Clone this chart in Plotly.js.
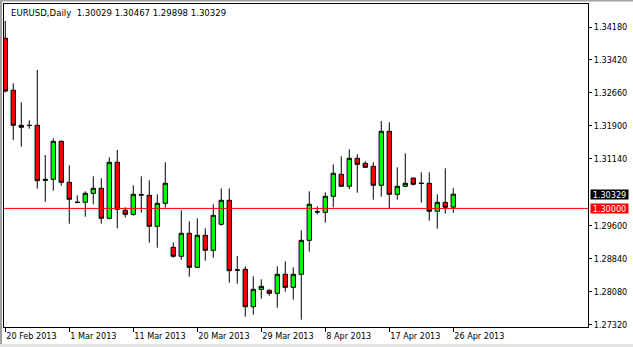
<!DOCTYPE html>
<html><head><meta charset="utf-8">
<script src="https://cdn.plot.ly/plotly-3.0.1.min.js"></script>
<style>html,body{margin:0;padding:0;background:#fff;overflow:hidden}#chart{width:633px;height:347px}</style>
</head><body><div id="chart"></div>
<script>
// Bar index (one per daily bar, 20 Feb 2013 .. 26 Apr 2013)
const barIndex = [0,1,2,3,4,5,6,7,8,9,10,11,12,13,14,15,16,17,18,19,20,21,22,23,24,25,26,27,28,29,30,31,32,33,34,35,36,37,38,39,40,41,42,43,44,45,46,47,48,49,50,51,52,53,54,55,56];
const openP  = [1.33920,1.32722,1.31915,1.31915,1.31915,1.30671,1.30671,1.31546,1.30602,1.30145,1.30141,1.30348,1.30463,1.29772,1.31063,1.29957,1.29864,1.30318,1.30302,1.29588,1.30118,1.29104,1.28897,1.29427,1.28643,1.29381,1.29035,1.29634,1.30187,1.28584,1.28597,1.27735,1.28136,1.28113,1.28044,1.28482,1.28182,1.28482,1.29265,1.29925,1.29910,1.30279,1.30786,1.30510,1.31155,1.31040,1.30970,1.30533,1.31777,1.30325,1.30510,1.30700,1.30582,1.30579,1.29934,1.30141,1.30029];
const highP  = [1.34318,1.32883,1.32445,1.32030,1.33189,1.31231,1.31616,1.31569,1.30993,1.30302,1.30394,1.30740,1.30694,1.31178,1.31346,1.30026,1.30533,1.30740,1.30648,1.30325,1.31063,1.29219,1.29957,1.29703,1.29772,1.29542,1.30095,1.30463,1.30463,1.28904,1.28666,1.28436,1.28367,1.28136,1.28666,1.28782,1.28643,1.29496,1.30394,1.30049,1.30371,1.31016,1.31201,1.31362,1.31247,1.31086,1.31063,1.32014,1.31984,1.30947,1.31270,1.30705,1.30832,1.30832,1.30325,1.30924,1.30467];
const lowP   = [1.32675,1.31576,1.31422,1.31837,1.30454,1.30155,1.30408,1.30523,1.29648,1.30118,1.29809,1.30095,1.29648,1.29749,1.29542,1.29795,1.29832,1.29901,1.29210,1.29095,1.30016,1.28864,1.28818,1.28427,1.28636,1.28795,1.28864,1.29602,1.28288,1.28265,1.27505,1.27551,1.27920,1.27989,1.27712,1.28081,1.27897,1.27436,1.29003,1.29864,1.29671,1.30026,1.30500,1.30440,1.30362,1.30940,1.30201,1.30270,1.30003,1.30201,1.30487,1.30533,1.30132,1.29717,1.29533,1.29878,1.29898];
const closeP = [1.32705,1.31915,1.31869,1.31912,1.30639,1.30650,1.31546,1.30602,1.30210,1.30138,1.30348,1.30463,1.29772,1.31063,1.29980,1.29864,1.30325,1.30311,1.29588,1.30118,1.30579,1.28897,1.29427,1.28643,1.29381,1.29035,1.29841,1.30187,1.28565,1.28578,1.27735,1.28136,1.28205,1.28044,1.28482,1.28182,1.28482,1.29265,1.30095,1.29919,1.30279,1.30809,1.30510,1.31155,1.31016,1.30947,1.30533,1.31777,1.30325,1.30510,1.30579,1.30556,1.30576,1.29934,1.30141,1.30026,1.30329];

// Time-scale labels
const dateTickIndex = [0,8,16,24,32,40,48,56];
const dateTickLabels = ["20 Feb 2013","1 Mar 2013","11 Mar 2013","20 Mar 2013","29 Mar 2013","8 Apr 2013","17 Apr 2013","26 Apr 2013"];
// Price scale labels
const priceTicks = [1.27320,1.28080,1.28840,1.29600,1.31140,1.31900,1.32660,1.33420,1.34180];
const priceTickLabels = ["1.27320","1.28080","1.28840","1.29600","1.31140","1.31900","1.32660","1.33420","1.34180"];
// Horizontal level and header
const levelPrice = [1.30000];
const levelLabel = ["1.30000"];
const symbolTitle = "EURUSD,Daily";

const lastO = openP[openP.length-1], lastH = highP[highP.length-1], lastL = lowP[lowP.length-1], lastC = closeP[closeP.length-1];
const fmt = v => v.toFixed(5);
const FONT = "'DejaVu Sans Condensed', 'Liberation Sans', sans-serif";

const trace = {
  type: 'candlestick',
  x: barIndex, open: openP, high: highP, low: lowP, close: closeP,
  increasing: {line: {color: '#000000', width: 1}, fillcolor: '#00FF00'},
  decreasing: {line: {color: '#000000', width: 1}, fillcolor: '#FF0000'},
  whiskerwidth: 0,
  hoverinfo: 'skip'
};

const layout = {
  width: 633, height: 347,
  margin: {l: 4, r: 45, t: 4, b: 20, pad: 0},
  paper_bgcolor: '#ffffff', plot_bgcolor: '#ffffff',
  showlegend: false,
  boxgap: 0.45, boxgroupgap: 0,
  font: {family: FONT, size: 9, color: '#000'},
  xaxis: {
    range: [-0.16, 72.84], tickmode: 'array', tickvals: dateTickIndex, ticktext: dateTickLabels,
    ticks: 'outside', ticklen: 4, tickcolor: '#000', tickwidth: 1,
    ticklabelposition: 'outside right',
    showgrid: false, zeroline: false, showline: true, mirror: true, linecolor: '#000', linewidth: 1,
    rangeslider: {visible: false}, fixedrange: true,
    tickfont: {family: FONT, size: 9, color: '#000'}
  },
  yaxis: {
    side: 'right', range: [1.27268, 1.34710], tickmode: 'array', tickvals: priceTicks, ticktext: priceTickLabels,
    ticks: 'outside', ticklen: 3, tickcolor: '#000', tickwidth: 1,
    showgrid: false, zeroline: false, showline: true, mirror: true, linecolor: '#000', linewidth: 1,
    fixedrange: true,
    tickfont: {family: FONT, size: 9, color: '#000'}
  },
  shapes: [
    {type: 'line', xref: 'paper', yref: 'y', x0: 0, x1: 1, y0: levelPrice[0], y1: levelPrice[0], line: {color: '#FF0000', width: 1}, layer: 'above'},
    // window frame
    {type: 'line', xref: 'paper', yref: 'paper', x0: -4/584, x1: 629/584, y0: 326.5/323, y1: 326.5/323, line: {color: '#a0a0a0', width: 2}},
    {type: 'line', xref: 'paper', yref: 'paper', x0: -3/584, x1: -3/584, y0: -20/323, y1: 327/323, line: {color: '#a0a0a0', width: 2}},
    {type: 'line', xref: 'paper', yref: 'paper', x0: -4/584, x1: 629/584, y0: -18.5/323, y1: -18.5/323, line: {color: '#e3e3e3', width: 3}}
  ],
  annotations: [
    {xref: 'paper', yref: 'paper', x: 5/584, y: 314/323, xanchor: 'left', yanchor: 'middle', showarrow: false,
     text: symbolTitle + '\u00A0\u00A0' + [lastO, lastH, lastL, lastC].map(fmt).join(' '),
     font: {family: FONT, size: 9.5, color: '#000'}},
    {xref: 'paper', yref: 'y', x: 586/584, y: lastC, xanchor: 'left', yanchor: 'middle', showarrow: false,
     text: fmt(lastC), bgcolor: '#000000', width: 37, height: 9, borderpad: 0, align: 'center',
     font: {family: FONT, size: 9, color: '#ffffff'}},
    {xref: 'paper', yref: 'y', x: 586/584, y: levelPrice[0], xanchor: 'left', yanchor: 'middle', showarrow: false,
     text: levelLabel[0], bgcolor: '#FF0000', width: 37, height: 9, borderpad: 0, align: 'center',
     font: {family: FONT, size: 9, color: '#ffffff'}}
  ]
};

Plotly.newPlot('chart', [trace], layout, {displayModeBar: false, staticPlot: true});
</script></body></html>
